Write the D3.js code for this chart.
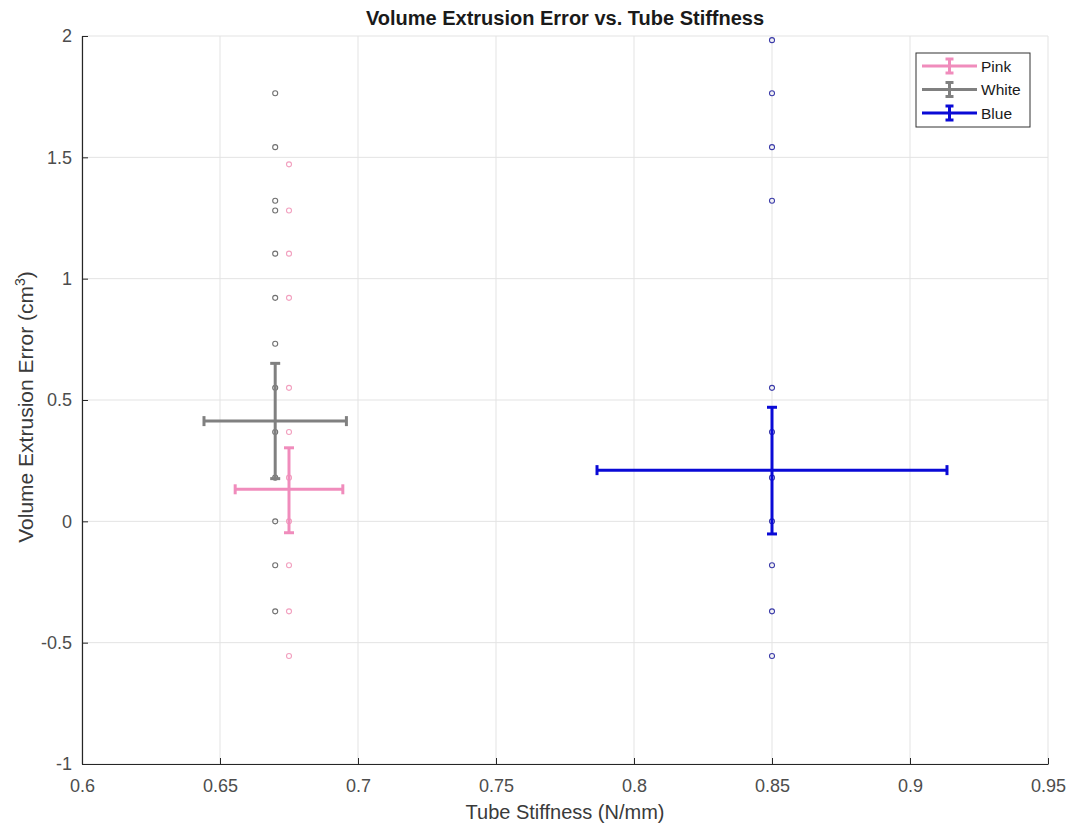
<!DOCTYPE html>
<html>
<head>
<meta charset="utf-8">
<script src="https://cdn.jsdelivr.net/npm/d3@7"></script>
<style>
  body { margin: 0; background: #fff; }
  svg { display: block; }
  text { font-family: Arial, "Liberation Sans", Helvetica, sans-serif; }
</style>
</head>
<body>
<svg id="chart" width="1071" height="824"></svg>
<script>
// ---- Data ----
const xTicks = [0.6, 0.65, 0.7, 0.75, 0.8, 0.85, 0.9, 0.95];
const yTicks = [-1, -0.5, 0, 0.5, 1, 1.5, 2];
const xTickLabels = ["0.6", "0.65", "0.7", "0.75", "0.8", "0.85", "0.9", "0.95"];
const yTickLabels = ["-1", "-0.5", "0", "0.5", "1", "1.5", "2"];

const seriesNames = ["Pink", "White", "Blue"];
const seriesColors = ["#f08cbc", "#808080", "#0a0ad6"];
const markerColors = ["#f2a0bf", "#707070", "#3a3aa8"];

// raw sample points (x stiffness, y error)
const pinkX = 0.675;
const pinkPoints = [1.471, 1.281, 1.103, 0.921, 0.550, 0.368, 0.180, 0.0, -0.181, -0.371, -0.555];
const whiteX = 0.67;
const whitePoints = [1.764, 1.542, 1.321, 1.281, 1.103, 0.921, 0.732, 0.550, 0.368, 0.180, 0.0, -0.181, -0.371];
const blueX = 0.85;
const bluePoints = [1.983, 1.764, 1.542, 1.321, 0.550, 0.368, 0.180, 0.0, -0.181, -0.371, -0.555];

// error bar summaries: mean x, mean y, x half-width, y lower, y upper
const meanX = [0.675, 0.670, 0.850];
const meanY = [0.132, 0.413, 0.211];
const xErr = [0.0195, 0.0258, 0.0634];
const yLow = [-0.047, 0.176, -0.052];
const yHigh = [0.303, 0.651, 0.470];

// ---- Layout ----
const svg = d3.select("#chart");
const mLeft = 82, mRight = 1048, mTop = 36, mBottom = 764;

const x = d3.scaleLinear().domain([0.6, 0.95]).range([mLeft, mRight]);
const y = d3.scaleLinear().domain([-1, 2]).range([mBottom, mTop]);

// grid
const grid = svg.append("g");
grid.selectAll(".vg").data(xTicks).enter().append("line")
  .attr("x1", d => x(d)).attr("x2", d => x(d))
  .attr("y1", mTop).attr("y2", mBottom)
  .attr("stroke", "#e3e3e3").attr("stroke-width", 1);
grid.selectAll(".hg").data(yTicks).enter().append("line")
  .attr("x1", mLeft).attr("x2", mRight)
  .attr("y1", d => y(d)).attr("y2", d => y(d))
  .attr("stroke", "#e3e3e3").attr("stroke-width", 1);

// axes (MATLAB style: inward ticks)
const xAxis = d3.axisBottom(x).tickValues(xTicks)
  .tickFormat((d, i) => xTickLabels[i]).tickSizeInner(-6).tickSizeOuter(0).tickPadding(15);
const yAxis = d3.axisLeft(y).tickValues(yTicks)
  .tickFormat((d, i) => yTickLabels[i]).tickSizeInner(-6).tickSizeOuter(0).tickPadding(10);

const gx = svg.append("g").attr("transform", `translate(0,${mBottom})`).call(xAxis);
const gy = svg.append("g").attr("transform", `translate(${mLeft},0)`).call(yAxis);
[gx, gy].forEach(g => {
  g.select(".domain").attr("stroke", "#262626").attr("stroke-width", 1.2);
  g.selectAll(".tick line").attr("stroke", "#262626").attr("stroke-width", 1);
  g.selectAll(".tick text").attr("fill", "#4d4d4d").style("font-size", "18px")
    .style("font-family", "Arial, 'Liberation Sans', sans-serif");
});

// scatter points
const pts = [
  {xv: pinkX, ys: pinkPoints, c: markerColors[0]},
  {xv: whiteX, ys: whitePoints, c: markerColors[1]},
  {xv: blueX, ys: bluePoints, c: markerColors[2]}
];
const ptG = svg.append("g");
pts.forEach(s => {
  ptG.selectAll(null).data(s.ys).enter().append("circle")
    .attr("cx", x(s.xv)).attr("cy", d => y(d)).attr("r", 2.5)
    .attr("fill", "none").attr("stroke", s.c).attr("stroke-width", 1.1);
});

// error bars
const cap = 5;
const eb = svg.append("g");
seriesNames.forEach((n, i) => {
  const c = seriesColors[i];
  const g = eb.append("g").attr("stroke", c).attr("stroke-width", 3).attr("fill", "none");
  const cx = x(meanX[i]), cy = y(meanY[i]);
  g.append("line").attr("x1", cx).attr("x2", cx).attr("y1", y(yLow[i])).attr("y2", y(yHigh[i]));
  g.append("line").attr("x1", cx - cap).attr("x2", cx + cap).attr("y1", y(yLow[i])).attr("y2", y(yLow[i]));
  g.append("line").attr("x1", cx - cap).attr("x2", cx + cap).attr("y1", y(yHigh[i])).attr("y2", y(yHigh[i]));
  const xl = x(meanX[i] - xErr[i]), xr = x(meanX[i] + xErr[i]);
  g.append("line").attr("x1", xl).attr("x2", xr).attr("y1", cy).attr("y2", cy);
  g.append("line").attr("x1", xl).attr("x2", xl).attr("y1", cy - cap).attr("y2", cy + cap);
  g.append("line").attr("x1", xr).attr("x2", xr).attr("y1", cy - cap).attr("y2", cy + cap);
});

// title
svg.append("text").attr("x", (mLeft + mRight) / 2).attr("y", 25)
  .attr("text-anchor", "middle").style("font-size", "20px").style("font-weight", "bold")
  .attr("fill", "#1a1a1a").text("Volume Extrusion Error vs. Tube Stiffness");

// x label
svg.append("text").attr("x", (mLeft + mRight) / 2).attr("y", 819)
  .attr("text-anchor", "middle").style("font-size", "20px").attr("fill", "#3a3a3a")
  .text("Tube Stiffness (N/mm)");

// y label
const yl = svg.append("text").attr("transform", `translate(33,407) rotate(-90)`)
  .attr("text-anchor", "middle").style("font-size", "21px").attr("fill", "#3a3a3a");
yl.append("tspan").text("Volume Extrusion Error (cm");
yl.append("tspan").attr("dy", -8).style("font-size", "14px").text("3");
yl.append("tspan").attr("dy", 8).text(")");

// legend
const lg = svg.append("g");
lg.append("rect").attr("x", 916).attr("y", 53).attr("width", 114).attr("height", 74)
  .attr("fill", "#fff").attr("stroke", "#333").attr("stroke-width", 1);
const lx1 = 922, lx2 = 977;
const legY = d3.scalePoint().domain(seriesNames).range([66, 113]);
seriesNames.forEach((n, i) => {
  const yy = legY(n);
  const midx = (lx1 + lx2) / 2;
  const g = lg.append("g").attr("stroke", seriesColors[i]).attr("stroke-width", 3);
  g.append("line").attr("x1", lx1).attr("x2", lx2).attr("y1", yy).attr("y2", yy);
  g.append("line").attr("x1", midx).attr("x2", midx).attr("y1", yy - 7).attr("y2", yy + 7);
  g.append("line").attr("x1", midx - 4).attr("x2", midx + 4).attr("y1", yy - 7).attr("y2", yy - 7);
  g.append("line").attr("x1", midx - 4).attr("x2", midx + 4).attr("y1", yy + 7).attr("y2", yy + 7);
  lg.append("text").attr("x", 981).attr("y", yy + 5.5).style("font-size", "15.5px")
    .attr("fill", "#1a1a1a").text(n);
});
</script>
</body>
</html>
